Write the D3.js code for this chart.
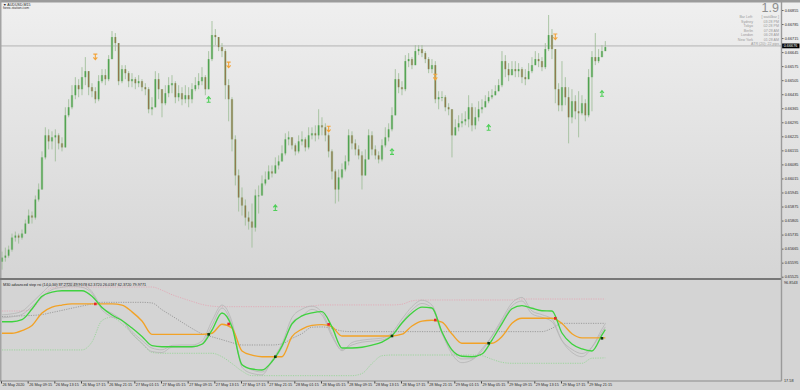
<!DOCTYPE html>
<html>
<head>
<meta charset="utf-8">
<script src="https://cdn.jsdelivr.net/npm/d3@7"></script>
<style>
  body { margin: 0; background: #d4d4d4; }
  svg { display: block; font-family: "Liberation Sans", Arial, sans-serif; }
</style>
</head>
<body>
<svg></svg>
<script>
// AUDUSD M15 chart + "advanced step rsi" sub window

// ---- data (prices in pips above 0.65500) ----
const basePrice = 0.655;
const firstOpen = 10;
const closes = [12,13,16,22,23,22,24,29,33,32,
  41,46,62,73,70,72,73,69,67,83,
  87,93,98,96,102,105,97,95,91,100,
  103,101,111,122,119,100,106,104,100,101,
  99,100,97,96,86,87,101,96,89,94,
  98,99,92,94,91,93,91,96,98,100,
  102,96,111,123,122,117,115,98,91,71,
  53,42,38,32,30,27,43,43,49,51,
  55,54,58,60,64,71,72,68,65,70,
  71,67,73,74,73,78,77,73,65,55,
  46,52,56,60,73,69,66,63,53,61,
  73,66,63,61,68,72,76,83,101,97,
  96,110,111,108,115,116,114,111,106,108,
  91,92,92,87,86,73,77,79,80,81,
  87,78,82,86,87,90,92,93,95,98,
  110,106,103,106,105,106,102,101,105,108,
  111,110,107,116,123,116,96,88,97,92,
  82,90,85,84,89,83,102,112,110,112,
  115,117];
const highs = [15,17,18,24,25,24,26,31,36,35,
  43,49,65,77,76,75,76,74,72,87,
  91,98,102,101,107,112,103,99,97,103,
  106,106,113,125,124,119,108,108,105,104,
  102,103,101,99,97,92,105,104,95,98,
  102,103,100,98,97,98,97,99,102,104,
  107,103,115,130,126,122,119,116,101,92,
  73,56,47,41,35,39,46,48,53,55,
  58,58,62,63,68,74,75,72,69,73,
  75,72,77,77,78,86,82,79,74,66,
  56,56,59,63,76,75,71,68,65,66,
  76,75,68,65,71,77,79,87,106,104,
  100,113,114,112,118,118,118,115,112,111,
  110,95,95,93,89,86,81,83,84,85,
  93,89,87,90,91,93,95,96,98,101,
  115,113,109,110,110,109,107,106,109,112,
  115,114,112,119,133,126,116,99,110,102,
  97,96,93,95,93,91,106,115,124,116,
  118,120];
const lows = [6,10,12,15,20,19,21,24,29,29,
  31,40,46,61,66,66,60,66,65,67,
  82,86,91,92,93,98,93,92,89,90,
  99,98,100,111,115,98,99,101,97,97,
  96,97,95,93,84,83,89,91,82,88,
  92,94,89,90,88,89,87,89,95,96,
  98,93,96,110,118,115,112,91,80,65,
  48,35,33,28,26,17,25,34,46,48,
  51,52,55,56,60,63,68,66,63,64,
  68,65,66,71,70,71,73,70,62,51,
  39,40,51,55,58,66,63,61,46,55,
  61,63,61,59,60,67,70,75,83,94,
  93,95,107,106,108,113,112,109,104,104,
  89,86,90,85,83,62,73,75,77,78,
  77,75,76,80,84,87,89,91,93,95,
  97,102,100,103,102,102,99,98,101,104,
  108,107,105,106,115,111,89,85,85,88,
  69,79,81,72,83,80,82,85,108,109,
  112,115];

const bidPrice = 0.66676;
const priceTicks = [0.66855,0.66785,0.66715,0.66645,0.66575,0.66505,0.66435,0.66365,0.66295,0.66225,
  0.66155,0.66085,0.66015,0.65945,0.65875,0.65805,0.65735,0.65665,0.65595,0.65525];

const labelBars = [0,8,16,24,32,40,48,56,64,72,80,88,96,104,112,120,128,136,144,152,160,168,176];
const timeLabels = ["26 May 2020","26 May 09:15","26 May 13:15","26 May 17:15","26 May 21:15",
  "27 May 01:15","27 May 05:15","27 May 09:15","27 May 13:15","27 May 17:15","27 May 21:15",
  "28 May 01:15","28 May 05:15","28 May 09:15","28 May 13:15","28 May 17:15","28 May 21:15",
  "29 May 01:15","29 May 05:15","29 May 09:15","29 May 13:15","29 May 17:15","29 May 21:15"];

// indicator sampled every third bar
const rsiBars = [0,3,6,9,12,15,18,21,24,27,30,33,36,39,42,45,48,51,54,57,60,63,66,69,72,75,78,81,84,87,
  90,93,96,99,102,105,108,111,114,117,120,123,126,129,132,135,138,141,144,147,150,153,156,159,162,165,
  168,171,174,177,180,181];
const rsiFast = [64.7,64.7,66.4,75.0,85.3,88.6,89.8,89.8,89.8,85.4,76.3,70.2,65.7,59.6,52.8,45.4,44.5,44.5,44.5,44.5,
  46.5,57.9,71.8,60.5,30.0,26.5,25.7,32.5,45.1,62.9,69.4,71.9,72.9,60.5,43.5,43.5,44.1,45.8,48.3,53.4,
  63.7,71.8,76.5,75.8,56.4,41.9,36.8,36.4,38.6,49.9,63.2,75.2,77.8,75.6,73.6,73.4,55.6,46.7,42.7,41.0,
  54.0,58.3];
const rsiSlow = [55.4,55.4,57.5,61.7,71.8,76.5,78.2,79.1,79.1,79.1,79.1,79.1,78.2,72.7,65.3,54.5,54.5,54.5,54.5,54.5,
  54.5,55.4,62.7,59.6,41.0,37.7,36.4,36.4,36.4,52.6,58.8,61.8,62.4,60.5,53.2,53.2,53.2,53.2,53.2,53.2,
  54.6,61.3,65.2,65.9,64.3,54.8,47.3,47.3,47.3,47.3,52.7,63.4,67.5,67.5,67.5,67.5,63.3,55.0,51.7,51.6,
  51.6,51.6];
const rsiRawA = [70.3,71.1,73.2,80.2,88.0,94.6,95.4,95.9,95.0,89.0,76.2,71.5,65.9,56.7,49.6,43.4,42.0,45.6,45.9,45.9,
  49.1,65.3,78.2,64.7,27.9,22.9,21.7,33.6,46.9,68.0,74.9,77.3,72.3,54.6,41.3,47.9,49.8,50.7,51.5,55.9,
  66.9,76.9,82.1,78.2,55.8,38.6,31.6,33.8,41.2,53.3,66.8,79.9,84.4,73.4,70.4,66.8,49.3,39.9,36.4,44.0,
  58.8,63.2];
const rsiRawB = [67.9,68.7,70.6,77.1,84.3,90.7,92.6,93.5,92.6,87.7,74.4,68.5,66.1,54.9,47.3,40.6,39.8,44.2,44.3,44.3,
  47.0,61.6,75.8,62.1,30.5,25.7,24.1,32.1,43.8,64.0,69.4,74.7,70.2,52.8,42.3,45.9,48.2,49.0,49.9,54.3,
  64.3,74.2,79.5,75.8,55.0,41.0,34.6,34.8,42.7,52.9,64.9,77.4,81.5,71.1,68.3,64.8,49.6,42.3,39.0,44.3,
  56.4,60.5];
const levelUp = [73.4,73.4,73.4,75.2,84.7,92.2,92.8,92.8,92.8,92.8,92.8,92.8,92.8,92.8,92.8,92.8,90.2,86.6,83.8,81.2,
  78.7,77.3,76.9,76.9,76.9,76.9,76.9,76.9,76.9,76.9,76.9,77.4,78.3,78.3,78.3,78.3,78.3,78.3,78.3,78.3,
  78.9,81.6,82.3,82.3,82.3,82.3,82.3,82.3,82.3,82.3,82.3,82.3,83.1,83.1,83.1,83.1,83.1,83.1,83.1,83.1,
  83.1,83.1];
const levelMid = [68.9,69.2,69.5,69.8,70.5,72.2,73.9,75.7,77.4,79.1,80.4,80.4,80.4,80.4,80.4,79.9,74.4,69.4,64.3,59.3,
  54.9,52.5,50.2,47.8,45.9,45.9,45.9,45.9,46.8,51.2,55.1,60.3,60.5,59.4,57.2,56.7,56.7,56.7,56.7,56.7,
  56.7,56.7,56.7,56.7,56.7,56.7,56.7,56.7,56.7,56.7,56.7,56.7,56.7,56.7,56.7,59.4,63.4,63.4,63.4,63.4,
  63.4,63.4];
const levelDn = [41.9,41.9,41.9,41.9,41.9,41.9,41.9,41.9,41.9,48.4,65.7,68.4,63.0,55.4,47.1,39.9,39.2,39.2,39.2,39.2,
  39.2,39.2,36.4,30.9,24.8,21.1,21.1,21.1,21.1,21.1,21.1,21.1,21.1,21.1,21.1,21.1,22.8,30.9,37.2,37.8,
  37.8,37.8,37.8,37.8,37.8,37.8,37.8,37.8,37.2,34.4,31.9,31.1,31.1,31.1,31.1,31.1,31.1,31.1,31.1,35.2,
  35.4,35.5,35.6];

// crossings of fast/slow line and the arrows on the price chart
const signalBars = [28,62,68,82,98,117,130,146,166,180];
const signalValues = [79.1,54.5,62.9,36.4,62.6,53.2,66.1,47.3,67.5,51.3];
const signalTypes = ["sell","buy","sell","buy","sell","buy","sell","buy","sell","buy"];
const arrowPips = [112,91,108,37,76,65,102,77,122,94];

const infoNames = ["Bar Left:","Sydney","Tokyo","Berlin","London","New York"];
const infoValues = ["[ wait4bar ]","03:28 PM","02:28 PM","07:28 AM","06:28 AM","01:28 AM"];
const spreadText = "1.9";
const atrText = "ATR (20): 22 pips";
const subTitle = "M30 advanced step rsi (14,0,10) 37.2720 49.9178 62.3720 26.0187 62.3720 79.9771";
const subMax = 96.8543, subMin = 17.58;

// ---- layout ----
const svgWidth = 800;
const svgHeight = 390;
const axisX = 781.5;
const mainTop = 2.5, mainBottom = 278;
const subTop = 280, subBottom = 381;
const fontSize = 3.8;

const svg = d3.select("svg")
    .attr("width", svgWidth)
    .attr("height", svgHeight);

const toPrice = p => basePrice + p / 10000;

const x = d3.scaleLinear().domain([0, closes.length - 1]).range([2, 605.3]);
const y = d3.scaleLinear().domain([0.65525, 0.66855]).range([276.7, 10]);
const ySub = d3.scaleLinear().domain([subMin, subMax]).range([380, 282]);

// backgrounds
const defs = svg.append("defs");
const grad = defs.append("linearGradient").attr("id", "bg").attr("x1", 0).attr("y1", 0).attr("x2", 0).attr("y2", 1);
grad.append("stop").attr("offset", "0%").attr("stop-color", "#efefef");
grad.append("stop").attr("offset", "100%").attr("stop-color", "#d5d5d5");

defs.append("clipPath").attr("id", "clipMain").append("rect")
    .attr("x", 0).attr("y", mainTop).attr("width", axisX).attr("height", mainBottom - mainTop);
defs.append("clipPath").attr("id", "clipSub").append("rect")
    .attr("x", 0).attr("y", subTop).attr("width", axisX).attr("height", subBottom - subTop);

svg.append("rect").attr("width", svgWidth).attr("height", mainBottom).attr("fill", "url(#bg)");
svg.append("rect").attr("y", subTop).attr("width", svgWidth).attr("height", svgHeight - subTop).attr("fill", "#d4d4d4");

// ---- main chart ----
const main = svg.append("g").attr("clip-path", "url(#clipMain)");

// bid line
main.append("line")
    .attr("x1", 0).attr("x2", axisX)
    .attr("y1", y(bidPrice)).attr("y2", y(bidPrice))
    .attr("stroke", "#cbcbcb").attr("stroke-width", 1.6);

const bars = closes.map((c, i) => {
    const o = i ? closes[i - 1] : firstOpen;
    return {i: i, o: o, c: c, h: Math.max(highs[i], o, c), l: Math.min(lows[i], o, c)};
});

main.append("g").selectAll("line")
    .data(bars)
    .join("line")
    .attr("x1", d => x(d.i)).attr("x2", d => x(d.i))
    .attr("y1", d => y(toPrice(d.h))).attr("y2", d => y(toPrice(d.l)))
    .attr("stroke", "#9dbd97").attr("stroke-opacity", 0.85).attr("stroke-width", 1);

main.append("g").selectAll("rect")
    .data(bars)
    .join("rect")
    .attr("x", d => x(d.i) - 1.2).attr("width", 2.4)
    .attr("y", d => y(toPrice(Math.max(d.o, d.c))))
    .attr("height", d => Math.max(0.8, Math.abs(y(toPrice(d.o)) - y(toPrice(d.c)))))
    .attr("fill", "#93bf8c").attr("fill-opacity", 0.7);

main.append("g").selectAll("line")
    .data(bars)
    .join("line")
    .attr("x1", d => x(d.i)).attr("x2", d => x(d.i))
    .attr("y1", d => y(toPrice(d.o))).attr("y2", d => y(toPrice(d.c)) + (d.c === d.o ? 0.8 : 0))
    .attr("stroke", d => d.c >= d.o ? "#3a9a3c" : "#8c6034")
    .attr("stroke-width", 0.9);

// signal arrows
const arrows = signalBars.map((b, k) => ({b: b, p: arrowPips[k], t: signalTypes[k]}));
main.append("g").selectAll("path")
    .data(arrows)
    .join("path")
    .attr("transform", d => "translate(" + x(d.b) + "," + y(toPrice(d.p)) + ")")
    .attr("d", d => d.t === "sell"
        ? "M-2,-3H2M0,-3V2.2M-2,0.2L0,2.6L2,0.2"
        : "M-2,3H2M0,3V-2.2M-2,-0.2L0,-2.6L2,-0.2")
    .attr("fill", "none")
    .attr("stroke", d => d.t === "sell" ? "#f3a43a" : "#4fcf58")
    .attr("stroke-width", 1.1);

// price axis
svg.append("g")
    .attr("transform", "translate(" + axisX + ",0)")
    .call(d3.axisRight(y).tickValues(priceTicks).tickSize(2).tickPadding(1.2).tickFormat(d3.format(".5f")))
    .call(g => g.select(".domain").remove())
    .call(g => g.selectAll("line").attr("stroke", "#555"))
    .call(g => g.selectAll("text").attr("font-size", fontSize).attr("fill", "#2b2b2b").attr("font-family", "Liberation Sans"));

// bid label
svg.append("rect").attr("x", axisX + 0.5).attr("y", y(bidPrice) - 2.4).attr("width", 17.5).attr("height", 4.8).attr("fill", "#000");
svg.append("text").attr("x", axisX + 2.2).attr("y", y(bidPrice) + 1.3)
    .attr("font-size", fontSize).attr("fill", "#fff").text(d3.format(".5f")(bidPrice));

// chart caption
svg.append("text").attr("x", 3).attr("y", 5.8).attr("font-size", 3.6).attr("fill", "#222").text("\u25BC AUDUSD,M15");
svg.append("text").attr("x", 3).attr("y", 9.2).attr("font-size", 3.4).attr("fill", "#333").text("forex-station.com");

// info panel
svg.append("text").attr("x", 779).attr("y", 12.3).attr("text-anchor", "end")
    .attr("font-size", 12.5).attr("fill", "#8d8d8d").text(spreadText);
const info = svg.append("g").attr("font-size", 3.6).attr("fill", "#9a9a9a");
info.selectAll("text.n").data(infoNames).join("text").attr("class", "n")
    .attr("x", 753).attr("y", (d, i) => 18 + i * 4.5).attr("text-anchor", "end").text(d => d);
info.selectAll("text.v").data(infoValues).join("text").attr("class", "v")
    .attr("x", 779).attr("y", (d, i) => 18 + i * 4.5).attr("text-anchor", "end").text(d => d);
info.append("text").attr("x", 779).attr("y", 44.6).attr("text-anchor", "end").text(atrText);

// ---- indicator window ----
const sub = svg.append("g").attr("clip-path", "url(#clipSub)");
const pts = vals => vals.map((v, k) => [x(rsiBars[k]), ySub(v)]);
const curve = d3.line().curve(d3.curveMonotoneX);

const dotted = [[levelUp, "#e4a3b3"], [levelMid, "#8f8f8f"], [levelDn, "#8fd58f"]];
dotted.forEach(([vals, col]) => {
    sub.append("path").attr("d", curve(pts(vals)))
        .attr("fill", "none").attr("stroke", col).attr("stroke-width", 0.8)
        .attr("stroke-dasharray", "1.2,1.2");
});

[rsiRawA, rsiRawB].forEach(vals => {
    sub.append("path").attr("d", curve(pts(vals)))
        .attr("fill", "none").attr("stroke", "#b5b5b5").attr("stroke-width", 0.8);
});

sub.append("path").attr("d", curve(pts(rsiSlow)))
    .attr("fill", "none").attr("stroke", "#f2a226").attr("stroke-width", 1.35);
sub.append("path").attr("d", curve(pts(rsiFast)))
    .attr("fill", "none").attr("stroke", "#3fd23f").attr("stroke-width", 1.35);

sub.append("g").selectAll("rect")
    .data(signalBars)
    .join("rect")
    .attr("x", d => x(d) - 1.3).attr("y", (d, k) => ySub(signalValues[k]) - 1.3)
    .attr("width", 2.6).attr("height", 2.6)
    .attr("fill", (d, k) => signalTypes[k] === "sell" ? "#e3262b" : "#0d3a10");

svg.append("text").attr("x", 3).attr("y", 285.6).attr("font-size", fontSize).attr("fill", "#222").text(subTitle);

// indicator scale labels
svg.append("g")
    .attr("transform", "translate(" + axisX + ",0)")
    .call(d3.axisRight(ySub).tickValues([subMax, subMin]).tickSize(0).tickPadding(2.5)
        .tickFormat(d => d === subMax ? "96.8543" : "17.58"))
    .call(g => g.select(".domain").remove())
    .call(g => g.selectAll("text").attr("font-size", fontSize).attr("fill", "#2b2b2b").attr("font-family", "Liberation Sans"));

// time axis
svg.append("g")
    .attr("transform", "translate(0," + subBottom + ")")
    .call(d3.axisBottom(x).tickValues(labelBars).tickSize(2.5).tickPadding(1)
        .tickFormat((d, k) => timeLabels[k]))
    .call(g => g.select(".domain").remove())
    .call(g => g.selectAll("line").attr("stroke", "#444").attr("transform", "translate(-1,0)"))
    .call(g => g.selectAll("text").attr("font-size", fontSize).attr("fill", "#2b2b2b")
        .attr("text-anchor", "start").attr("font-family", "Liberation Sans").attr("dy", "0.45em"));

// frame lines
svg.append("rect").attr("x", 0).attr("y", 0).attr("width", svgWidth).attr("height", mainTop).attr("fill", "#9b9b9b");
svg.append("rect").attr("x", 0).attr("y", 0).attr("width", 1.5).attr("height", subBottom).attr("fill", "#a3a3a3");
svg.append("rect").attr("x", 0).attr("y", mainBottom).attr("width", axisX).attr("height", subTop - mainBottom).attr("fill", "#777");
svg.append("line").attr("x1", 0).attr("x2", axisX).attr("y1", subBottom).attr("y2", subBottom)
    .attr("stroke", "#8a8a8a").attr("stroke-width", 1);
svg.append("line").attr("x1", axisX).attr("x2", axisX).attr("y1", 0).attr("y2", subBottom)
    .attr("stroke", "#9a9a9a").attr("stroke-width", 1.4);
</script>
</body>
</html>
